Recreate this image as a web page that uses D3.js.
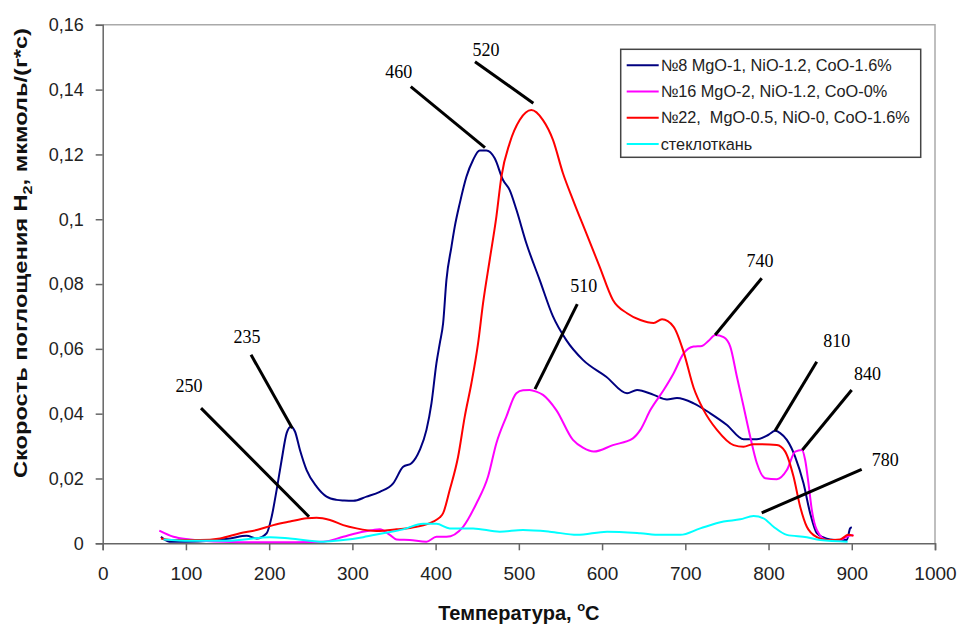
<!DOCTYPE html>
<html><head><meta charset="utf-8">
<script src="https://cdn.jsdelivr.net/npm/d3@7"></script>
<style>body{margin:0;background:#fff} svg{display:block}</style>
</head><body>
<svg id="chart" width="961" height="625"></svg>
<script>
// ---------- data ----------
const xTicks = [0,100,200,300,400,500,600,700,800,900,1000];
const yTicks = [0,0.02,0.04,0.06,0.08,0.1,0.12,0.14,0.16];
const yTickLabels = ["0","0,02","0,04","0,06","0,08","0,1","0,12","0,14","0,16"];
const seriesNames = ["№8 MgO-1, NiO-1.2, CoO-1.6%","№16 MgO-2, NiO-1.2, CoO-0%","№22,  MgO-0.5, NiO-0, CoO-1.6%","стеклоткань"];
const seriesColors = ["#000080","#ff00ff","#ff0000","#00ffff"];

// [temperature °C, rate]
const s8 = [[70,0.002],[80,0.0005],[100,0.0005],[130,0.0008],[153,0.0015],[173,0.0023],[185,0.0015],[197,0.0031],[203,0.0082],[209,0.0165],[215,0.0257],[221,0.034],[226,0.036],[231,0.0345],[237,0.0288],[245,0.0226],[257,0.0175],[269,0.0144],[281,0.0134],[290,0.0132],[301,0.0131],[317,0.0144],[333,0.0159],[349,0.0185],[361,0.0236],[371,0.0247],[381,0.0288],[389,0.035],[395,0.0432],[401,0.0556],[405,0.0617],[409,0.0679],[413,0.0813],[419,0.0915],[423,0.0977],[429,0.1049],[437,0.1131],[445,0.1183],[453,0.1212],[461,0.1212],[471,0.1188],[481,0.1121],[489,0.109],[497,0.103],[509,0.0926],[525,0.0813],[541,0.070],[557,0.0627],[577,0.0566],[605,0.0514],[630,0.0463],[642,0.0473],[662,0.0458],[678,0.0444],[690,0.0448],[710,0.0432],[730,0.0401],[750,0.0365],[770,0.0321],[786,0.0321],[800,0.0335],[808,0.0347],[814,0.034],[822,0.0319],[832,0.0267],[842,0.0185],[850,0.0093],[858,0.0031],[866,0.0018],[874,0.0012],[886,0.001],[894,0.001],[898,0.0046],[900,0.005]];
const s16 = [[68,0.0039],[85,0.002],[105,0.0012],[145,0.0005],[200,0.0003],[265,0.0005],[289,0.002],[305,0.0031],[325,0.0041],[333,0.0043],[345,0.0026],[353,0.0012],[369,0.001],[389,0.0005],[401,0.002],[413,0.002],[433,0.0051],[449,0.0123],[463,0.0206],[473,0.0309],[485,0.0391],[497,0.0463],[505,0.0472],[513,0.0473],[521,0.0468],[529,0.0458],[545,0.0411],[565,0.0319],[577,0.0295],[590,0.0283],[613,0.0303],[637,0.0324],[646,0.035],[658,0.0411],[674,0.0473],[686,0.0525],[698,0.0586],[710,0.0607],[720,0.0609],[728,0.0625],[736,0.0643],[746,0.0636],[754,0.0607],[762,0.0514],[770,0.0422],[778,0.0329],[786,0.0247],[796,0.0201],[810,0.0198],[822,0.0226],[832,0.0283],[840,0.0288],[844,0.0257],[848,0.0185],[852,0.0103],[858,0.0041],[870,0.001],[886,0.001],[894,0.002],[902,0.0026]];
const s22 = [[70,0.0015],[85,0.001],[117,0.001],[141,0.0015],[165,0.0031],[185,0.0041],[205,0.0056],[225,0.0067],[245,0.0077],[257,0.0079],[273,0.0072],[289,0.0056],[305,0.0046],[329,0.0038],[353,0.0043],[377,0.0051],[397,0.0067],[405,0.008],[409,0.0093],[417,0.0165],[427,0.0267],[435,0.0391],[443,0.0494],[451,0.0617],[457,0.0741],[465,0.0875],[473,0.1008],[479,0.1131],[489,0.1235],[501,0.1306],[515,0.1337],[529,0.1306],[541,0.1245],[553,0.1142],[565,0.106],[581,0.0957],[597,0.0854],[613,0.0751],[630,0.071],[646,0.0689],[662,0.068],[672,0.0691],[686,0.0668],[698,0.059],[710,0.048],[722,0.0411],[738,0.035],[758,0.0303],[770,0.0298],[782,0.0306],[810,0.0303],[820,0.0283],[830,0.0206],[838,0.0113],[846,0.0051],[858,0.0019],[870,0.001],[886,0.0012],[896,0.0026],[902,0.0023]];
const glass = [[73,0.0012],[105,0.0008],[150,0.0008],[201,0.0019],[225,0.0015],[265,0.0005],[289,0.001],[313,0.0019],[337,0.0031],[361,0.0043],[385,0.006],[401,0.006],[417,0.0046],[445,0.0046],[477,0.0036],[505,0.0041],[537,0.0036],[570,0.0026],[606,0.0036],[646,0.0031],[670,0.0026],[694,0.0026],[718,0.0046],[746,0.0067],[766,0.0074],[782,0.0084],[794,0.0077],[806,0.0051],[822,0.0026],[846,0.0019],[862,0.001],[895,0.0005]];

// peak annotations: label, point on the curve, outer end of the leader, label anchor (data units)
const annotLabels = ["235","250","460","520","510","740","810","840","780"];
const annotPeak = [[227.8,0.0355],[247.9,0.0082],[459.3,0.1221],[517.4,0.1358],[519.4,0.0476],[735.8,0.0643],[807.8,0.0347],[840.6,0.0288],[791.8,0.0094]];
const annotEnd = [[178.2,0.0582],[118.1,0.0417],[370.1,0.1409],[447.3,0.1486],[570.2,0.0738],[791.8,0.0818],[857.9,0.0560],[899.9,0.0473],[911.9,0.0228]];
const annotText = [[173.4,0.0619],[103.7,0.0468],[355.8,0.1436],[460.5,0.1504],[577.9,0.0777],[789.7,0.0854],[881.9,0.0607],[918.9,0.0504],[940.3,0.0240]];

// ---------- drawing ----------
const svg = d3.select("#chart");
const x = d3.scaleLinear().domain([0,1000]).range([102.7,935]);
const y = d3.scaleLinear().domain([0,0.16]).range([543.3,24.8]);
const font = "'Liberation Sans', Arial, sans-serif";

// plot frame (top & right)
svg.append("path")
  .attr("d", `M${x(0)},${y(0.16)}H${x(1000)}V${y(0)}`)
  .attr("fill","none").attr("stroke","#aaa").attr("stroke-width",1.5);

// y axis
const gy = svg.append("g").attr("transform",`translate(${x(0)},0)`)
  .call(d3.axisLeft(y).tickValues(yTicks).tickSize(7).tickPadding(12).tickFormat((d,i)=>yTickLabels[i]));
gy.select(".domain").attr("stroke","#666").attr("stroke-width",1.5);
gy.selectAll(".tick line").attr("stroke","#666").attr("stroke-width",1.5);
gy.selectAll(".tick text").attr("font-family",font).attr("font-size",18).attr("fill","#222");

// x axis
const gx = svg.append("g").attr("transform",`translate(0,${y(0)})`)
  .call(d3.axisBottom(x).tickValues(xTicks).tickSize(7).tickPadding(16).tickFormat(d3.format("d")));
gx.select(".domain").attr("stroke","#666").attr("stroke-width",1.5);
gx.selectAll(".tick line").attr("stroke","#666").attr("stroke-width",1.5);
gx.selectAll(".tick text").attr("font-family",font).attr("font-size",19).attr("fill","#222");

// axis titles
const xt = svg.append("text").attr("x",(x(0)+x(1000))/2).attr("y",620)
  .attr("text-anchor","middle").attr("font-family",font).attr("font-size",20)
  .attr("font-weight","bold").attr("fill","#111");
xt.append("tspan").text("Температура, ");
xt.append("tspan").attr("font-size",13).attr("dy",-9).text("o");
xt.append("tspan").attr("dy",9).text("C");

const yt = svg.append("text").attr("transform","translate(27,253) rotate(-90)")
  .attr("text-anchor","middle").attr("font-family",font).attr("font-size",19)
  .attr("font-weight","bold").attr("fill","#111")
  .attr("textLength",450).attr("lengthAdjust","spacingAndGlyphs");
yt.append("tspan").text("Скорость поглощения H");
yt.append("tspan").attr("font-size",13).attr("dy",5).text("2");
yt.append("tspan").attr("dy",-5).text(", мкмоль/(г*с)");

// series
const line = d3.line().x(d=>x(d[0])).y(d=>y(d[1])).curve(d3.curveMonotoneX);
const allSeries = [s8,s16,s22,glass];
svg.append("g").selectAll("path").data(allSeries).join("path")
  .attr("d",line).attr("fill","none")
  .attr("stroke",(d,i)=>seriesColors[i]).attr("stroke-width",2)
  .attr("stroke-linejoin","round");

// annotations
const ga = svg.append("g");
ga.selectAll("line").data(annotLabels).join("line")
  .attr("x1",(d,i)=>x(annotEnd[i][0])).attr("y1",(d,i)=>y(annotEnd[i][1]))
  .attr("x2",(d,i)=>x(annotPeak[i][0])).attr("y2",(d,i)=>y(annotPeak[i][1]))
  .attr("stroke","#000").attr("stroke-width",3);
ga.selectAll("text").data(annotLabels).join("text")
  .attr("x",(d,i)=>x(annotText[i][0])).attr("y",(d,i)=>y(annotText[i][1]))
  .attr("text-anchor","middle").attr("font-family","'Liberation Serif','Times New Roman',serif")
  .attr("font-size",18).attr("fill","#000").text(d=>d);

// legend
const lg = svg.append("g").attr("transform","translate(620.7,49.3)");
lg.append("rect").attr("width",300).attr("height",108).attr("fill","#fff")
  .attr("stroke","#444").attr("stroke-width",1.5);
const items = lg.selectAll("g").data(seriesNames).join("g")
  .attr("transform",(d,i)=>`translate(0,${16 + i*26.2})`);
items.append("line").attr("x1",6).attr("x2",38).attr("stroke",(d,i)=>seriesColors[i]).attr("stroke-width",2);
items.append("text").attr("x",40).attr("dy","0.35em").attr("font-family",font)
  .attr("font-size",16.3).attr("fill","#222").style("white-space","pre").text(d=>d);
</script>
</body></html>
